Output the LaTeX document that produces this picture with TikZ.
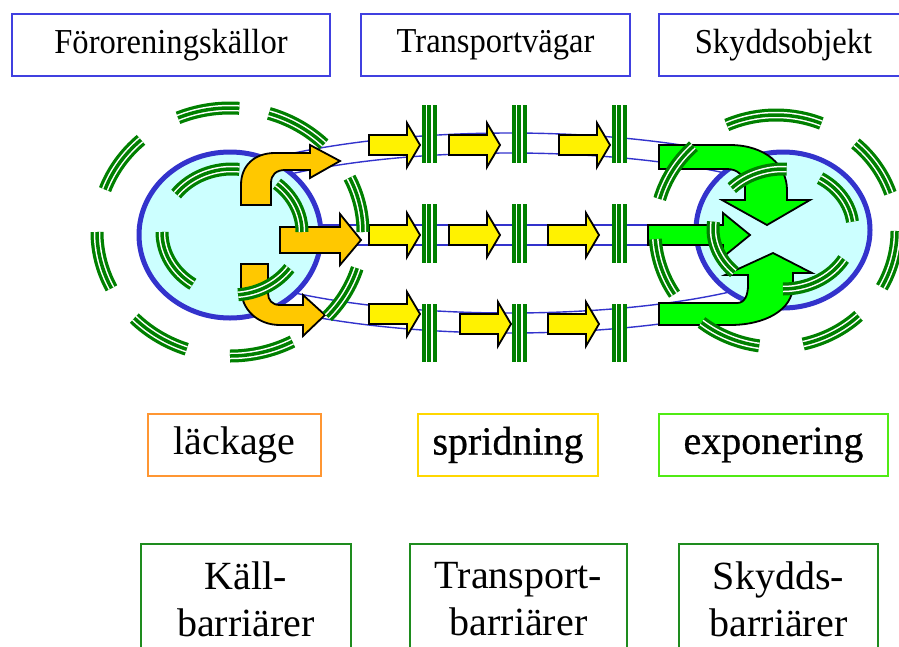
\documentclass[tikz,border=0pt]{standalone}
\usepackage{fontspec}
\setmainfont{Liberation Serif}
\newfontfamily\heavyserif[FakeBold=0.6]{Liberation Serif}
\newfontfamily\tallserif[FakeStretch=0.93]{Liberation Serif}
\definecolor{topblue}{RGB}{64,64,224}
\definecolor{tubeblue}{RGB}{51,51,204}
\definecolor{cyanfill}{RGB}{204,255,255}
\definecolor{ringgreen}{RGB}{0,128,0}
\definecolor{orangefill}{RGB}{255,200,0}
\definecolor{arrgreen}{RGB}{0,255,0}
\definecolor{leakline}{RGB}{255,150,50}
\definecolor{spreadline}{RGB}{255,215,0}
\definecolor{exposeline}{RGB}{80,235,20}
\definecolor{barline}{RGB}{30,140,30}
\newcommand{\ringdash}[4]{%
  \foreach \lw/\lc in {13/ringgreen,6.5/white,3.5/ringgreen}{%
    \foreach \aa/\bb in {#4}{%
      \draw[line width=\lw pt,draw=\lc] (#1) ++(-\aa:#2 and #3) arc[start angle=-\aa,end angle=-\bb,x radius=#2,y radius=#3];
    }}}
\newcommand{\yarr}[2]{\draw[blockarrow,fill=yellow] (#1,#2-10) -- (#1+38,#2-10) -- (#1+38,#2-22) -- (#1+51,#2) -- (#1+38,#2+22) -- (#1+38,#2+10) -- (#1,#2+10) -- cycle;}
\newcommand{\gbar}[3]{%
  \foreach \lw/\lc in {15/ringgreen,7/white,4/ringgreen}{%
    \draw[line width=\lw pt,draw=\lc] (#1,#2) -- (#1,#3);}}
\begin{document}
\begin{tikzpicture}[x=1pt,y=-1pt,
  topbox/.style={draw=topblue,line width=2pt,minimum height=62pt,inner sep=0pt,font=\tallserif\fontsize{35}{38}\selectfont},
  midbox/.style={line width=2pt,minimum height=62pt,inner sep=0pt,font=\fontsize{40}{42}\selectfont},
  botbox/.style={draw=barline,line width=1.6pt,anchor=north,minimum height=125pt,inner sep=0pt,align=center,text depth=15pt,font=\fontsize{40}{47}\selectfont},
  blockarrow/.style={draw=black,line width=1.8pt,line join=miter},
  tube/.style={draw=tubeblue,line width=1.4pt},
  vessel/.style={draw=tubeblue,line width=5pt,fill=cyanfill}]
\useasboundingbox (0,0) rectangle (899,646);
\clip (0,0) rectangle (899,646);

% titles
\node[topbox,minimum width=318pt] (src) at (171,45) {Föroreningskällor};
\node[topbox,minimum width=269pt] (way) at (495.5,45) {Transportvägar};
\node[topbox,minimum width=249pt] (obj) at (783.5,45) {Skyddsobjekt};

% transport tubes
\draw[tube] (510,233) ellipse[x radius=360,y radius=100];
\draw[tube] (510,233) ellipse[x radius=325,y radius=80];
\draw[tube] (300,225) -- (720,225);
\draw[tube] (300,245) -- (720,245);

% source and target
\draw[vessel] (230,235) ellipse[x radius=91,y radius=83];
\draw[vessel] (783,230) ellipse[x radius=87,y radius=78];

% orange leakage arrows
\draw[blockarrow,fill=orangefill] (241,205) -- (241,185) .. controls (241,165) and (255,153) .. (275,153) -- (310,153) -- (310,145) -- (340,161) -- (310,178) -- (310,170) -- (285,170) .. controls (276,170) and (271,175) .. (271,183) -- (271,205) -- cycle;
\draw[blockarrow,fill=orangefill] (280,227) -- (340,227) -- (340,214) -- (361,240) -- (340,265) -- (340,253) -- (280,253) -- cycle;
\draw[blockarrow,fill=orangefill] (241,264) -- (268,264) -- (268,293) .. controls (268,300) and (272,305) .. (280,305) -- (303,305) -- (303,295) -- (325,315) -- (303,336) -- (303,325) -- (280,325) .. controls (258,325) and (241,310) .. (241,288) -- cycle;

% green exposure arrows
\draw[blockarrow,fill=arrgreen] (659,145) -- (730,145) .. controls (765,145) and (787,165) .. (787,190) -- (787,200) -- (810,200) -- (767,225) -- (722,200) -- (745,200) -- (745,188) .. controls (745,175) and (737,169) .. (727,169) -- (659,169) -- cycle;
\draw[blockarrow,fill=arrgreen] (648,225) -- (723,225) -- (723,213) -- (750,235) -- (723,257) -- (723,245) -- (648,245) -- cycle;
\draw[blockarrow,fill=arrgreen] (659,303) -- (737,303) .. controls (745,303) and (748,295) .. (748,285) -- (748,275) -- (725,275) -- (773,253) -- (812,273) -- (793,273) -- (793,285) .. controls (793,310) and (765,325) .. (730,325) -- (659,325) -- cycle;

% yellow spreading arrows
\yarr{369}{145}\yarr{449}{145}\yarr{559}{145}
\yarr{369}{235}\yarr{449}{235}\yarr{548}{235}
\yarr{369}{314}\yarr{460}{324}\yarr{548}{324}

% transport barriers
\gbar{429}{105}{163}\gbar{519}{105}{163}\gbar{619}{105}{163}
\gbar{429}{204}{263}\gbar{519}{204}{263}\gbar{619}{204}{263}
\gbar{429}{304}{362}\gbar{519}{304}{362}\gbar{619}{304}{362}

% source barriers
\ringdash{230,232}{133}{124}{0/26,45/73,86/113,132/160,180/207,224/251,270/298,317/343}
\ringdash{232,232}{70}{63}{0/50,84/143,180/236,275/325}
% protection barriers
\ringdash{776,231}{121}{116}{19/49,68/114,133/164,184/213,232/262,283/313,331/360}
\ringdash{783,229}{70}{60}{7/58,87/137,173/226,270/330}

% process labels
\node[midbox,draw=leakline,minimum width=173pt] (leak) at (234.5,445) {läckage};
\node[midbox,draw=spreadline,minimum width=180pt] (spread) at (508,445) {\heavyserif spridning};
\node[midbox,draw=exposeline,minimum width=229pt] (expose) at (773.5,445) {\heavyserif exponering};

% barrier labels
\node[botbox,minimum width=210pt] (kb) at (246,543) {Käll-\\barriärer};
\node[botbox,minimum width=217pt] (tb) at (518.5,543) {Transport-\\barriärer};
\node[botbox,minimum width=199pt] (sb) at (778.5,543) {Skydds-\\barriärer};
\end{tikzpicture}
\end{document}
